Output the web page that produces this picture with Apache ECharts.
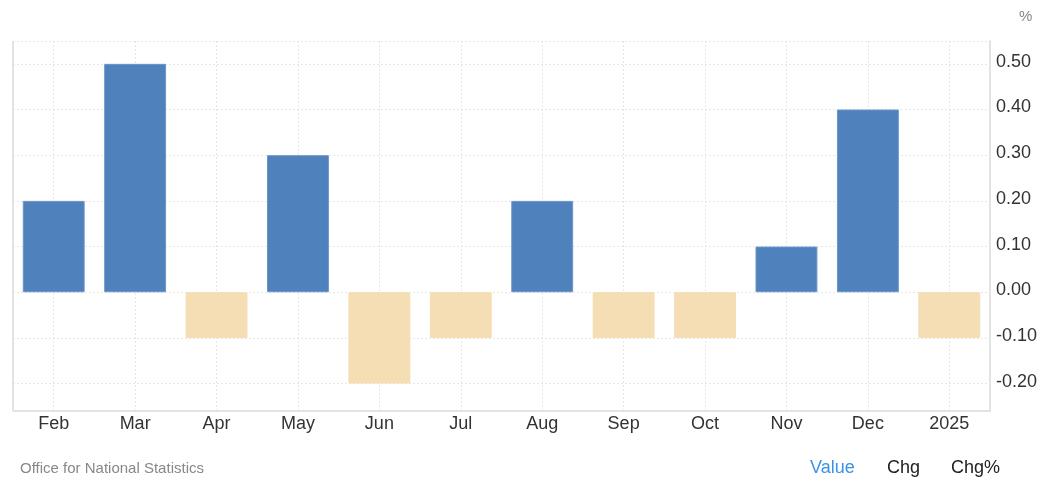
<!DOCTYPE html>
<html>
<head>
<meta charset="utf-8">
<script src="https://cdn.jsdelivr.net/npm/echarts@6/dist/echarts.min.js"></script>
<style>html,body{margin:0;padding:0;background:#fff}#c{width:1045px;height:485px}</style>
</head>
<body>
<div id="c"></div>
<script>
const categories = ['Feb','Mar','Apr','May','Jun','Jul','Aug','Sep','Oct','Nov','Dec','2025'];
const values = [0.2, 0.5, -0.1, 0.3, -0.2, -0.1, 0.2, -0.1, -0.1, 0.1, 0.4, -0.1];
const yMin = -0.26, yMax = 0.55, yStep = 0.1;
const sourceText = 'Office for National Statistics';
const unitText = '%';
const tabLabels = ['Value', 'Chg', 'Chg%'];

const chart = echarts.init(document.getElementById('c'), null, {renderer: 'canvas'});
const font = 'Arial, "Liberation Sans", sans-serif';
chart.setOption({
  animation: false,
  grid: {left: 13, right: 55, top: 41, bottom: 74, containLabel: false},
  xAxis: {
    type: 'category',
    data: categories,
    boundaryGap: true,
    axisLine: {show: true, onZero: false, lineStyle: {color: '#e3e3e3', width: 2}},
    axisTick: {show: false, alignWithLabel: true},
    axisLabel: {color: '#333', fontSize: 18, fontFamily: font, margin: 4},
    splitLine: {show: true, alignWithLabel: true, lineStyle: {color: '#e6e6e6', type: [2, 2], width: 1}}
  },
  yAxis: {
    type: 'value',
    position: 'right',
    min: yMin, max: yMax,
    minInterval: yStep, maxInterval: yStep, splitNumber: 8,
    axisLine: {show: true, lineStyle: {color: '#e3e3e3', width: 2}},
    axisTick: {show: false},
    axisLabel: {color: '#333', fontSize: 18, fontFamily: font, margin: 6,
      showMinLabel: false, showMaxLabel: false,
      verticalAlign: 'bottom', padding: [0, 0, -7, 0],
      formatter: v => v.toFixed(2)},
    splitLine: {show: true, lineStyle: {color: '#e6e6e6', type: [2, 2], width: 1}}
  },
  series: [{
    type: 'bar',
    data: values.map(v => ({value: v, itemStyle: {color: v >= 0 ? '#4f81bd' : '#f5deb3', borderColor: v >= 0 ? '#6b95c8' : '#f5deb3', borderWidth: 1}})),
    barWidth: '76%'
  }],
  graphic: [
    {type: 'line', shape: {x1: 13, y1: 41, x2: 13, y2: 411}, style: {stroke: '#e3e3e3', lineWidth: 2}},
    {type: 'text', left: 1019, top: 9, style: {text: unitText, fill: '#888', font: '15px ' + font}},
    {type: 'text', left: 20, top: 461, style: {text: sourceText, fill: '#888', font: '15px ' + font}},
    {type: 'text', left: 810, top: 459, style: {text: tabLabels[0], fill: '#3b93e6', font: '18px ' + font}},
    {type: 'text', left: 887, top: 459, style: {text: tabLabels[1], fill: '#222', font: '18px ' + font}},
    {type: 'text', left: 951, top: 459, style: {text: tabLabels[2], fill: '#222', font: '18px ' + font}}
  ]
});
</script>
</body>
</html>
